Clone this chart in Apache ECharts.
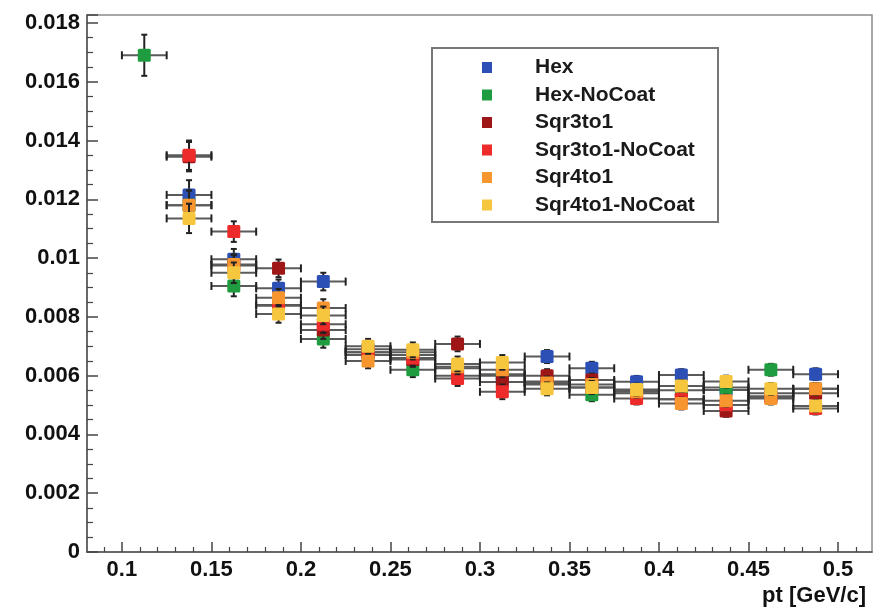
<!DOCTYPE html>
<html>
<head>
<meta charset="utf-8">
<script src="https://cdn.jsdelivr.net/npm/echarts@6/dist/echarts.min.js"></script>
<style>
html,body{margin:0;padding:0;background:#fff;}
#chart{width:874px;height:609px;}
</style>
</head>
<body>
<div id="chart"></div>
<script>
// ---- data ----
const binCenters = [0.1125, 0.1375, 0.1625, 0.1875, 0.2125, 0.2375, 0.2625, 0.2875, 0.3125, 0.3375, 0.3625, 0.3875, 0.4125, 0.4375, 0.4625, 0.4875];
const binHalfWidth = 0.0125;
const yErrors = [0.0007, 0.0005, 0.00035, 0.0003, 0.0003, 0.00025, 0.00025, 0.00025, 0.00025, 0.00022, 0.00022, 0.0002, 0.0002, 0.0002, 0.0002, 0.0002];

const seriesNames = ['Hex', 'Hex-NoCoat', 'Sqr3to1', 'Sqr3to1-NoCoat', 'Sqr4to1', 'Sqr4to1-NoCoat'];
const hex         = [null, 0.01215, 0.00996, 0.00897, 0.00920, 0.00690, 0.00670, 0.00625, 0.00600, 0.00665, 0.00625, 0.00579, 0.00602, 0.00551, 0.00540, 0.00605];
const hexNoCoat   = [0.01690, 0.01180, 0.00905, 0.00840, 0.00725, 0.00670, 0.00620, 0.00600, 0.00605, 0.00580, 0.00535, 0.00550, 0.00550, 0.00560, 0.00620, 0.00555];
const sqr3to1     = [null, 0.01345, 0.00975, 0.00965, 0.00755, 0.00680, 0.00655, 0.00708, 0.00578, 0.00600, 0.00585, 0.00540, 0.00520, 0.00480, 0.00525, 0.00540];
const sqr3to1NoCoat = [null, 0.01350, 0.01090, 0.00838, 0.00775, 0.00680, 0.00660, 0.00590, 0.00545, 0.00570, 0.00560, 0.00522, 0.00520, 0.00500, 0.00530, 0.00488];
const sqr4to1     = [null, 0.01180, 0.00978, 0.00865, 0.00830, 0.00650, 0.00680, 0.00630, 0.00620, 0.00575, 0.00570, 0.00545, 0.00505, 0.00515, 0.00522, 0.00555];
const sqr4to1NoCoat = [null, 0.01135, 0.00950, 0.00810, 0.00805, 0.00700, 0.00688, 0.00640, 0.00645, 0.00555, 0.00560, 0.00553, 0.00565, 0.00580, 0.00555, 0.00497];
const seriesValues = [hex, hexNoCoat, sqr3to1, sqr3to1NoCoat, sqr4to1, sqr4to1NoCoat];
const seriesColors = ['#2b4fb4', '#1f9c3f', '#9e1616', '#ee2b2b', '#f7952f', '#f6c63f'];

const xTickLabels = [0.1, 0.15, 0.2, 0.25, 0.3, 0.35, 0.4, 0.45, 0.5];
const xMinorTicks = [0.09, 0.11, 0.12, 0.13, 0.14, 0.16, 0.17, 0.18, 0.19, 0.21, 0.22, 0.23, 0.24, 0.26, 0.27, 0.28, 0.29, 0.31, 0.32, 0.33, 0.34, 0.36, 0.37, 0.38, 0.39, 0.41, 0.42, 0.43, 0.44, 0.46, 0.47, 0.48, 0.49, 0.51];

// ---- chart ----
const FONT = '"Liberation Sans", Arial, sans-serif';
const chart = echarts.init(document.getElementById('chart'), null, {renderer: 'canvas'});

function renderErr(params, api) {
  const x = api.value(0), y = api.value(1), ey = api.value(2);
  const c = api.coord([x, y]);
  const l = api.coord([x - binHalfWidth, y]);
  const r = api.coord([x + binHalfWidth, y]);
  const t = api.coord([x, y + ey]);
  const b = api.coord([x, y - ey]);
  const color = api.visual('color');
  const barStyle = {stroke: '#5a5a5a', lineWidth: 2};
  const capStyle = {stroke: '#222', lineWidth: 2};
  const cap = 4, vcap = 3, ms = 13;
  return {
    type: 'group',
    children: [
      {type: 'line', shape: {x1: l[0], y1: l[1], x2: r[0], y2: r[1]}, style: barStyle},
      {type: 'line', shape: {x1: l[0], y1: l[1] - cap, x2: l[0], y2: l[1] + cap}, style: capStyle},
      {type: 'line', shape: {x1: r[0], y1: r[1] - cap, x2: r[0], y2: r[1] + cap}, style: capStyle},
      {type: 'line', shape: {x1: t[0], y1: t[1], x2: b[0], y2: b[1]}, style: capStyle},
      {type: 'line', shape: {x1: t[0] - vcap, y1: t[1], x2: t[0] + vcap, y2: t[1]}, style: capStyle},
      {type: 'line', shape: {x1: b[0] - vcap, y1: b[1], x2: b[0] + vcap, y2: b[1]}, style: capStyle},
      {type: 'rect', shape: {x: c[0] - ms / 2, y: c[1] - ms / 2, width: ms, height: ms, r: 1.5}, style: {fill: color}}
    ]
  };
}

const series = seriesNames.map((name, i) => {
  const data = [];
  binCenters.forEach((x, j) => {
    const v = seriesValues[i][j];
    if (v !== null) data.push([x, v, yErrors[j]]);
  });
  return {
    name: name,
    type: 'custom',
    renderItem: renderErr,
    itemStyle: {color: seriesColors[i]},
    encode: {x: 0, y: 1},
    data: data,
    z: 2 + i,
    silent: true
  };
});

const option = {
  animation: false,
  backgroundColor: '#fff',
  grid: {left: 87, right: 2, top: 15, bottom: 57, show: true, borderColor: '#8a8a8a', borderWidth: 1.5, backgroundColor: 'transparent'},
  xAxis: [
    {
      type: 'value', min: 0.0805, max: 0.519, position: 'bottom',
      name: 'pt [GeV/c]', nameLocation: 'end', nameGap: -6,
      nameTextStyle: {fontFamily: FONT, fontWeight: 'bold', fontSize: 22, color: '#111', align: 'right', verticalAlign: 'top', padding: [33, 0, 0, 0]},
      axisLine: {show: true, lineStyle: {color: '#555', width: 1.5}},
      axisTick: {show: true, inside: true, length: 10, customValues: xTickLabels, lineStyle: {color: '#444', width: 1.5}},
      axisLabel: {customValues: xTickLabels, fontFamily: FONT, fontWeight: 'bold', fontSize: 22, color: '#111', margin: 7},
      splitLine: {show: false}
    },
    {
      type: 'value', min: 0.0805, max: 0.519, position: 'bottom',
      axisLine: {show: false},
      axisTick: {show: true, inside: true, length: 5, customValues: xMinorTicks, lineStyle: {color: '#444', width: 1.2}},
      axisLabel: {show: false},
      splitLine: {show: false}
    }
  ],
  yAxis: {
    type: 'value', min: 0, max: 0.01827, interval: 0.002,
    axisLine: {show: true, lineStyle: {color: '#555', width: 1.5}},
    axisTick: {show: true, inside: true, length: 11, lineStyle: {color: '#444', width: 1.5}},
    minorTick: {show: true, splitNumber: 4, length: 6, lineStyle: {color: '#444', width: 1.2}},
    axisLabel: {
      fontFamily: FONT, fontWeight: 'bold', fontSize: 22, color: '#111', margin: 7,
      formatter: function (v) { return v > 0.0181 ? '' : String(+v.toFixed(4)); }
    },
    splitLine: {show: false}
  },
  legend: {
    orient: 'vertical', left: 477, top: 52,
    itemWidth: 10, itemHeight: 11, itemGap: 6.5,
    icon: 'rect',
    data: seriesNames,
    textStyle: {fontFamily: FONT, fontWeight: 'bold', fontSize: 21, color: '#1a1a1a', lineHeight: 18, padding: [0, 0, 0, 38]},
    selectedMode: false
  },
  graphic: [
    {type: 'rect', z: 1, shape: {x: 432, y: 48, width: 286, height: 174}, style: {fill: '#fff', stroke: '#777', lineWidth: 2}}
  ],
  series: series
};
chart.setOption(option);
</script>
</body>
</html>
